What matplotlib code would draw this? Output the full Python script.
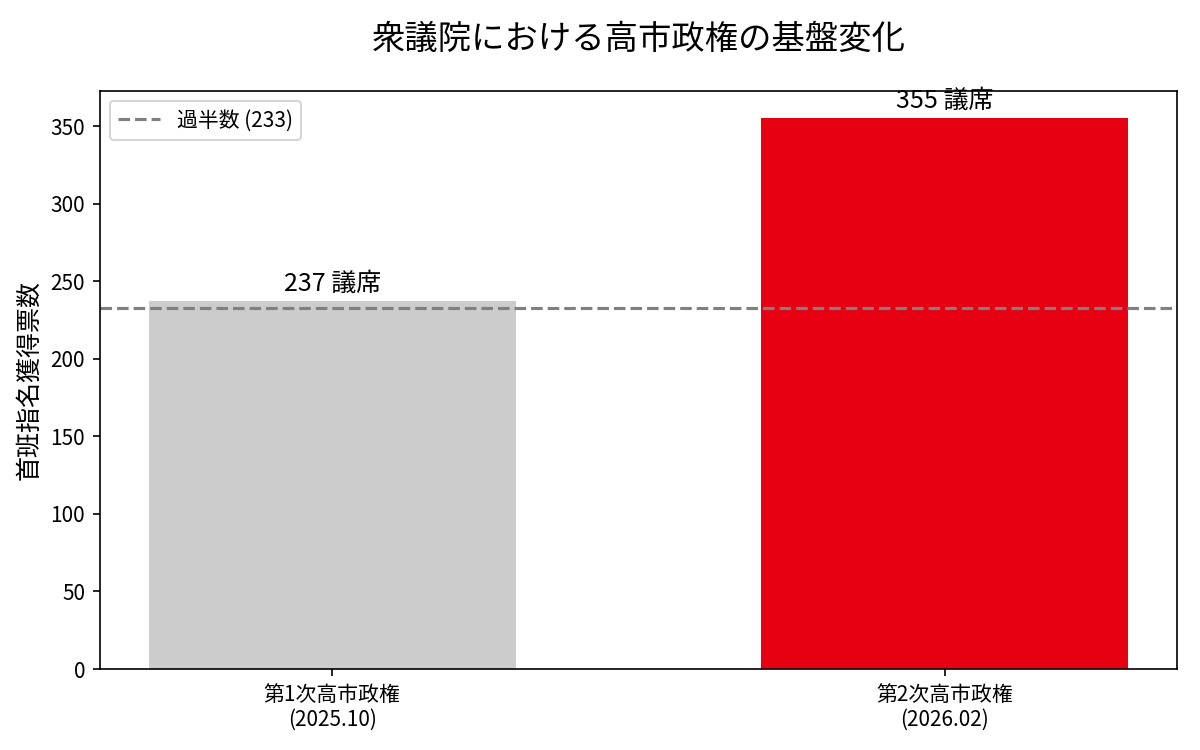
import matplotlib
matplotlib.use('Agg')
import matplotlib.pyplot as plt

plt.rcParams['font.family'] = ['Noto Sans CJK JP', 'DejaVu Sans']

labels = ['第1次高市政権\n(2025.10)', '第2次高市政権\n(2026.02)']
seats = [237, 355]
colors = ['#cccccc', '#e60012']
MAJORITY = 233

fig, ax = plt.subplots(figsize=(8, 5), dpi=150)
fig.subplots_adjust(left=0.083, right=0.981, top=0.879, bottom=0.108)

bars = ax.bar(labels, seats, color=colors, width=0.6)
ax.axhline(MAJORITY, color='gray', linestyle='--', linewidth=1.5, label=f'過半数 ({MAJORITY})')

for b, v in zip(bars, seats):
    ax.text(b.get_x() + b.get_width() / 2, v + 3, f'{v} 議席',
            ha='center', va='bottom', fontsize=12)

ax.set_title('衆議院における高市政権の基盤変化', fontsize=16, pad=20)
ax.set_ylabel('首班指名獲得票数', fontsize=12)
ax.legend(loc='upper left')

plt.savefig('out.png', dpi=150)
